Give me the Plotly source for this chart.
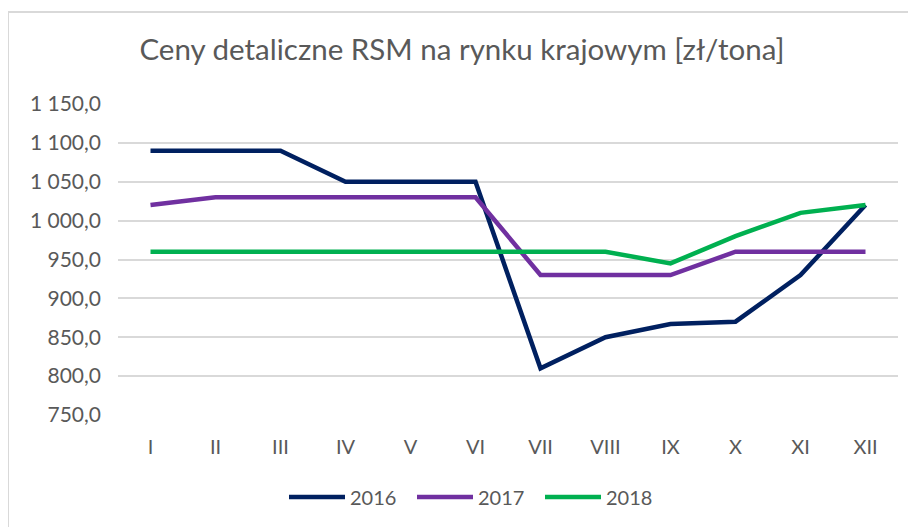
import plotly.graph_objects as go

months = ["I", "II", "III", "IV", "V", "VI", "VII", "VIII", "IX", "X", "XI", "XII"]
y2016 = [1090, 1090, 1090, 1050, 1050, 1050, 810, 850, 867, 870, 930, 1020]
y2017 = [1020, 1030, 1030, 1030, 1030, 1030, 930, 930, 930, 960, 960, 960]
y2018 = [960, 960, 960, 960, 960, 960, 960, 960, 945, 980, 1010, 1020]
tick_vals = [750, 800, 850, 900, 950, 1000, 1050, 1100, 1150]
tick_text = ["750,0", "800,0", "850,0", "900,0", "950,0", "1 000,0", "1 050,0", "1 100,0", "1 150,0"]

FONT = "Lato, Carlito, Calibri, sans-serif"
fig = go.Figure()
for name, ys, col in [("2016", y2016, "#002060"), ("2017", y2017, "#7030a0"), ("2018", y2018, "#00b050")]:
    fig.add_trace(go.Scatter(x=months, y=ys, mode="lines", name=name,
                             line=dict(color=col, width=4.5)))

# page body has an 8px margin; compensate
OFF = 8
W, H = 916 - OFF, 527 - OFF
L, R, T, B = 118 - OFF, 18, 104 - OFF, 112
pw, ph = W - L - R, H - T - B
base = H - B  # pixel y of plot bottom inside figure
fig.add_shape(type="rect", xref="paper", yref="paper",
              x0=(0 - L) / pw, x1=(W + 20 - L) / pw,
              y0=(base - H - 20) / ph, y1=(base - 4) / ph,
              line=dict(color="#d9d9d9", width=2), fillcolor="rgba(0,0,0,0)", layer="above")

fig.update_layout(
    width=W, height=H,
    margin=dict(l=L, r=R, t=T, b=B, autoexpand=False),
    paper_bgcolor="white", plot_bgcolor="white",
    font=dict(family=FONT, color="#595959", size=20),
    title=dict(text="Ceny detaliczne RSM na rynku krajowym [zł/tona]",
               x=0.5, xref="container", xanchor="center", y=1 - (50 - OFF) / H, yanchor="middle",
               font=dict(size=29.5, color="#595959", family=FONT)),
    xaxis=dict(type="category", range=[-0.5, 11.5], showgrid=False, showline=False,
               ticks="", tickfont=dict(size=20, color="#595959"), ticklabelstandoff=18),
    yaxis=dict(range=[750, 1150], tickvals=tick_vals, ticktext=tick_text,
               showgrid=True, gridcolor="#d9d9d9", gridwidth=1.5, zeroline=False,
               showline=False, ticks="", tickfont=dict(size=21, color="#595959"),
               ticklabelstandoff=16),
    legend=dict(orientation="h", x=(476 - 118) / 780, xanchor="center",
                y=-((497 - OFF) - base) / ph, yanchor="middle",
                font=dict(size=20, color="#595959"), itemwidth=56, entrywidth=57,
                tracegroupgap=0),
    showlegend=True,
)
fig.write_html("out.html")
